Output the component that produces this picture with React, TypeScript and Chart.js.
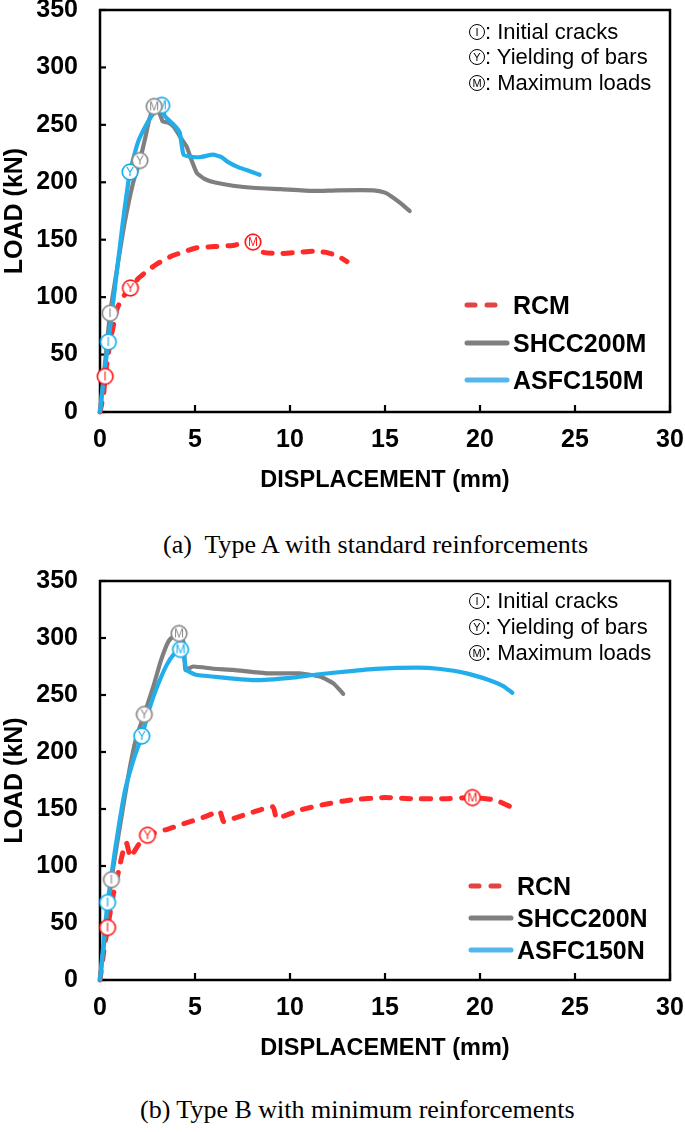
import React, { useEffect, useRef } from 'react';
import { Chart, registerables } from 'chart.js';

Chart.register(...registerables);

// ---------- shared axis ticks ----------
const xTickValues = [0, 5, 10, 15, 20, 25, 30];
const yTickValues = [0, 50, 100, 150, 200, 250, 300, 350];

// ---------- (a) Type A ----------
const rcmX = [0, 0.1, 0.2, 0.27, 0.5, 0.7, 0.9, 1.2, 1.6, 2.0, 2.5, 3.0, 3.8, 4.5, 5.1, 6.0, 7.0, 7.5, 8.05, 8.3, 8.6, 9.5, 10.4, 11.2, 11.9, 12.5, 13.0];
const rcmY = [0, 8, 17, 31, 58, 75, 90, 100, 108, 116, 123, 129, 136, 140, 143, 144, 145, 147, 148, 144, 139, 138, 139, 140, 139, 136, 131];
const rcmMarkX = [0.27, 1.6, 8.05];
const rcmMarkY = [31, 108, 148];

const shccMX = [0, 0.25, 0.53, 0.9, 1.3, 1.75, 2.1, 2.4, 2.6, 2.85, 3.1, 3.3, 3.6, 3.9, 4.2, 4.56, 4.8, 5.1, 5.5, 6.0, 7.0, 8.2, 9.5, 11.2, 12.5, 14.4, 15.0, 15.4, 15.8, 16.3];
const shccMY = [0, 40, 86, 125, 165, 200, 219, 240, 255, 266, 262, 253, 252, 248, 240, 231, 220, 208, 203, 200, 197, 195, 194, 192.5, 193, 193, 191, 187, 182, 175];
const shccMMarkX = [0.53, 2.1, 2.85];
const shccMMarkY = [86, 219, 266];

const asfcMX = [0, 0.2, 0.44, 0.8, 1.2, 1.58, 2.0, 2.5, 2.9, 3.25, 3.4, 3.7, 4.0, 4.2, 4.4, 4.9, 5.3, 5.95, 6.4, 6.7, 7.3, 8.0, 8.4];
const asfcMY = [0, 30, 61, 110, 165, 209, 235, 252, 262, 267, 258, 253, 248, 243, 224, 222, 222, 224, 222, 218, 213, 209, 206.5];
const asfcMMarkX = [0.44, 1.58, 3.25];
const asfcMMarkY = [61, 209, 267];

// ---------- (b) Type B ----------
const rcnX = [0, 0.2, 0.4, 0.7, 1.0, 1.2, 1.4, 1.6, 2.0, 2.5, 3.5, 4.4, 5.5, 6.3, 6.5, 6.9, 8.0, 9.1, 9.3, 10.5, 11.8, 13.2, 15.0, 16.5, 18.0, 19.6, 20.8, 21.6];
const rcnY = [0, 25, 46, 75, 97, 112, 120, 108, 118, 127, 132, 137, 143, 148, 139, 141, 147, 152, 142, 149, 154, 158, 160, 159, 159, 160, 158, 152];
const rcnMarkX = [0.4, 2.5, 19.6];
const rcnMarkY = [46, 127, 160];

const shccNX = [0, 0.3, 0.6, 1.0, 1.5, 1.9, 2.33, 2.8, 3.2, 3.6, 3.9, 4.16, 4.4, 4.5, 4.9, 6.0, 7.0, 8.8, 10.5, 11.6, 12.3, 12.8];
const shccNY = [0, 45, 88, 130, 180, 212, 233, 257, 280, 297, 302, 304, 296, 272, 275, 273, 272, 269, 269, 266, 260, 251];
const shccNMarkX = [0.6, 2.33, 4.16];
const shccNMarkY = [88, 233, 304];

const asfcNX = [0, 0.2, 0.4, 0.8, 1.3, 1.8, 2.2, 2.6, 3.0, 3.5, 3.9, 4.24, 4.42, 4.55, 5.0, 6.0, 8.1, 10.0, 11.4, 13.2, 14.5, 16.7, 17.8, 19.3, 20.5, 21.2, 21.7];
const asfcNY = [0, 35, 68, 115, 165, 195, 214, 238, 257, 276, 286, 290, 284, 272, 268, 266, 263, 265, 268, 271, 273, 274, 273, 269, 263, 258, 252];
const asfcNMarkX = [0.4, 2.2, 4.24];
const asfcNMarkY = [68, 214, 290];

const markLetters = ['I', 'Y', 'M'];
const annotationTexts = [': Initial cracks', ': Yielding of bars', ': Maximum loads'];

const SANS = '"Liberation Sans", Arial, Helvetica, sans-serif';
const SERIF = '"Liberation Serif", "Times New Roman", serif';

const RED = '#ff2a2a';
const GRAY = '#7f7f7f';
const BLUE = '#22aeea';

type Series = {
  label: string;
  xs: number[];
  ys: number[];
  mx: number[];
  my: number[];
  color: string;
  markColor: string;
  legendColor: string;
  dashed?: boolean;
};

const seriesA: Series[] = [
  { label: 'RCM', xs: rcmX, ys: rcmY, mx: rcmMarkX, my: rcmMarkY, color: RED, markColor: '#ff1a1a', legendColor: '#e04444', dashed: true },
  { label: 'SHCC200M', xs: shccMX, ys: shccMY, mx: shccMMarkX, my: shccMMarkY, color: GRAY, markColor: '#8a8a8a', legendColor: '#7f7f7f' },
  { label: 'ASFC150M', xs: asfcMX, ys: asfcMY, mx: asfcMMarkX, my: asfcMMarkY, color: BLUE, markColor: '#12aef0', legendColor: '#55b6ea' },
];

const seriesB: Series[] = [
  { label: 'RCN', xs: rcnX, ys: rcnY, mx: rcnMarkX, my: rcnMarkY, color: RED, markColor: '#ff1a1a', legendColor: '#e04444', dashed: true },
  { label: 'SHCC200N', xs: shccNX, ys: shccNY, mx: shccNMarkX, my: shccNMarkY, color: GRAY, markColor: '#8a8a8a', legendColor: '#7f7f7f' },
  { label: 'ASFC150N', xs: asfcNX, ys: asfcNY, mx: asfcNMarkX, my: asfcNMarkY, color: BLUE, markColor: '#12aef0', legendColor: '#55b6ea' },
];

function makeMarker(letter: string, color: string): HTMLCanvasElement {
  const c = document.createElement('canvas');
  const s = 20;
  c.width = s;
  c.height = s;
  const ctx = c.getContext('2d')!;
  ctx.beginPath();
  ctx.arc(s / 2, s / 2, 7.8, 0, Math.PI * 2);
  ctx.fillStyle = '#ffffff';
  ctx.fill();
  ctx.lineWidth = 1.7;
  ctx.strokeStyle = color;
  ctx.stroke();
  ctx.fillStyle = color;
  ctx.font = `12px ${SANS}`;
  ctx.textAlign = 'center';
  ctx.textBaseline = 'middle';
  ctx.fillText(letter, s / 2, s / 2 + 0.5);
  return c;
}

const framePlugin = {
  id: 'frame',
  beforeDatasetsDraw(chart: any) {
    const { ctx, chartArea: a, scales } = chart;
    ctx.save();
    ctx.strokeStyle = '#000';
    ctx.lineWidth = 2.5;
    ctx.strokeRect(a.left, a.top, a.right - a.left, a.bottom - a.top);
    ctx.lineWidth = 2.2;
    scales.x.ticks.forEach((t: any) => {
      const px = scales.x.getPixelForValue(t.value);
      ctx.beginPath();
      ctx.moveTo(px, a.bottom);
      ctx.lineTo(px, a.bottom - 7);
      ctx.stroke();
    });
    scales.y.ticks.forEach((t: any) => {
      const py = scales.y.getPixelForValue(t.value);
      ctx.beginPath();
      ctx.moveTo(a.left, py);
      ctx.lineTo(a.left + 6, py);
      ctx.stroke();
    });
    ctx.restore();
  },
};

function Panel({ series, top, padTop }: { series: Series[]; top: number; padTop: number }) {
  const ref = useRef<HTMLCanvasElement>(null);
  useEffect(() => {
    if (!ref.current) return;
    const markerSets = series.map((s) => ({
      data: s.mx.map((x, i) => ({ x, y: s.my[i] })),
      showLine: false,
      pointStyle: markLetters.map((l) => makeMarker(l, s.markColor)),
      pointRadius: 9,
      order: 0,
      clip: false as any,
    }));
    const lineSets = series.map((s, idx) => ({
      data: s.xs.map((x, i) => ({ x, y: s.ys[i] })),
      showLine: true,
      borderColor: s.color,
      backgroundColor: s.color,
      borderWidth: s.dashed ? 5 : 4.2,
      borderDash: s.dashed ? [9, 11] : [],
      borderCapStyle: 'round' as const,
      borderJoinStyle: 'round' as const,
      pointRadius: 0,
      tension: 0.15,
      order: 3 - idx,
      clip: false as any,
    }));
    const tickFont = { family: SANS, size: 25, weight: 'bold' as const };
    const chart = new Chart(ref.current, {
      type: 'scatter',
      data: { datasets: [...markerSets, ...lineSets] as any },
      plugins: [framePlugin],
      options: {
        animation: false,
        responsive: false,
        events: [],
        layout: { padding: { top: padTop, right: 15, left: 0, bottom: 0 } },
        plugins: { legend: { display: false }, tooltip: { enabled: false } },
        scales: {
          x: {
            type: 'linear',
            min: 0,
            max: 30,
            afterBuildTicks: (s: any) => {
              s.ticks = xTickValues.map((v) => ({ value: v }));
            },
            afterFit: (s: any) => {
              s.height = 88;
              s.paddingLeft = 0;
              s.paddingRight = 0;
            },
            ticks: { font: tickFont, color: '#000', padding: 13, maxRotation: 0, autoSkip: false },
            grid: { display: false, drawTicks: false },
            border: { display: false },
            title: {
              display: true,
              text: 'DISPLACEMENT (mm)',
              color: '#000',
              font: { family: SANS, size: 23.5, weight: 'bold' },
              padding: { top: 0, bottom: 5 },
            },
          },
          y: {
            type: 'linear',
            min: 0,
            max: 350,
            afterBuildTicks: (s: any) => {
              s.ticks = yTickValues.map((v) => ({ value: v }));
            },
            afterFit: (s: any) => {
              s.width = 100;
              s.paddingTop = 0;
              s.paddingBottom = 0;
            },
            ticks: { font: tickFont, color: '#000', padding: 22 },
            grid: { display: false, drawTicks: false },
            border: { display: false },
            title: {
              display: true,
              text: 'LOAD (kN)',
              color: '#000',
              font: { family: SANS, size: 25, weight: 'bold' },
              padding: { top: 0, bottom: 0 },
            },
          },
        },
      },
    });
    return () => chart.destroy();
  }, [series, padTop]);
  return (
    <canvas
      ref={ref}
      width={685}
      height={500}
      style={{ position: 'absolute', left: 0, top, width: 685, height: 500, display: 'block' }}
    />
  );
}

function Annotation({ rows }: { rows: number[] }) {
  return (
    <>
      {rows.map((y, i) => (
        <div
          key={i}
          style={{
            position: 'absolute',
            left: 469,
            top: y - 14,
            height: 28,
            display: 'flex',
            alignItems: 'center',
            fontFamily: SANS,
            fontSize: 22,
            color: '#000',
            whiteSpace: 'pre',
          }}
        >
          <span
            style={{
              width: 16,
              height: 16,
              border: '1.5px solid #000',
              borderRadius: '50%',
              boxSizing: 'border-box',
              display: 'inline-flex',
              alignItems: 'center',
              justifyContent: 'center',
              fontSize: 11,
              lineHeight: 1,
            }}
          >
            {markLetters[i]}
          </span>
          <span>{annotationTexts[i]}</span>
        </div>
      ))}
    </>
  );
}

function Legend({ series, rows, x0 }: { series: Series[]; rows: number[]; x0: number }) {
  return (
    <>
      {series.map((s, i) => (
        <div
          key={s.label}
          style={{
            position: 'absolute',
            left: x0,
            top: rows[i] - 16,
            height: 32,
            display: 'flex',
            alignItems: 'center',
            whiteSpace: 'pre',
          }}
        >
          <svg width={46} height={10} style={{ display: 'block' }}>
            <line
              x1={3}
              y1={5}
              x2={43}
              y2={5}
              stroke={s.legendColor}
              strokeWidth={5}
              strokeLinecap="round"
              strokeDasharray={s.dashed ? '8 12' : undefined}
            />
          </svg>
          <span style={{ fontFamily: SANS, fontWeight: 'bold', fontSize: 25, color: '#000', marginLeft: 3 }}>
            {s.label}
          </span>
        </div>
      ))}
    </>
  );
}

export default function App() {
  return (
    <div
      style={{
        position: 'absolute',
        left: 0,
        top: 0,
        width: 685,
        height: 1132,
        background: '#fff',
        overflow: 'hidden',
      }}
    >
      <Panel series={seriesA} top={0} padTop={10} />
      <Annotation rows={[32, 57, 83]} />
      <Legend series={seriesA} rows={[305, 343, 380]} x0={464} />
      <div
        style={{
          position: 'absolute',
          left: 163,
          top: 545 - 16,
          height: 32,
          lineHeight: '32px',
          fontFamily: SERIF,
          fontSize: 26,
          color: '#000',
          whiteSpace: 'pre',
        }}
      >
        {'(a)  Type A with standard reinforcements'}
      </div>

      <Panel series={seriesB} top={568} padTop={13} />
      <Annotation rows={[601, 627, 653]} />
      <Legend series={seriesB} rows={[886, 918, 950]} x0={468} />
      <div
        style={{
          position: 'absolute',
          left: 140,
          top: 1110 - 16,
          height: 32,
          lineHeight: '32px',
          fontFamily: SERIF,
          fontSize: 26,
          color: '#000',
          whiteSpace: 'pre',
        }}
      >
        {'(b) Type B with minimum reinforcements'}
      </div>
    </div>
  );
}
